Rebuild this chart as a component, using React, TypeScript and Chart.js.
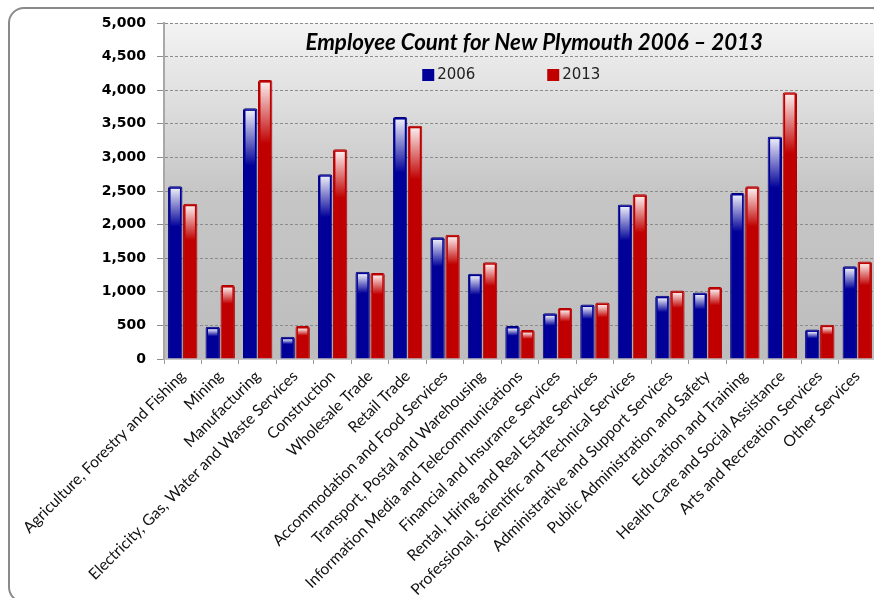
import React, { useEffect, useRef } from "react";
import { Chart, registerables } from "chart.js";

Chart.register(...registerables);

const categories: string[] = [
  "Agriculture, Forestry and Fishing",
  "Mining",
  "Manufacturing",
  "Electricity, Gas, Water and Waste Services",
  "Construction",
  "Wholesale Trade",
  "Retail Trade",
  "Accommodation and Food Services",
  "Transport, Postal and Warehousing",
  "Information Media and Telecommunications",
  "Financial and Insurance Services",
  "Rental, Hiring and Real Estate Services",
  "Professional, Scientific and Technical Services",
  "Administrative and Support Services",
  "Public Administration and Safety",
  "Education and Training",
  "Health Care and Social Assistance",
  "Arts and Recreation Services",
  "Other Services",
];

const values2006: number[] = [2570, 480, 3730, 330, 2750, 1300, 3600, 1810, 1270, 490, 680, 810, 2300, 940, 990, 2470, 3310, 440, 1380];
const values2013: number[] = [2310, 1100, 4150, 490, 3120, 1280, 3470, 1850, 1440, 430, 760, 840, 2450, 1020, 1070, 2570, 3970, 510, 1450];

const seriesLabels: string[] = ["2006", "2013"];
const titleText = "Employee Count for New Plymouth 2006 \u2013 2013";

const yMin = 0;
const yMax = 5000;
const yStep = 500;

const plotBackground = {
  id: "plotBackground",
  beforeDraw(chart: any) {
    const { ctx, chartArea } = chart;
    const { left, top, right, bottom } = chartArea;
    const g = ctx.createLinearGradient(0, top, 0, bottom);
    g.addColorStop(0, "#f3f3f3");
    g.addColorStop(0.5, "#c6c6c6");
    g.addColorStop(1, "#bdbdbd");
    ctx.save();
    ctx.fillStyle = g;
    ctx.fillRect(left, top, right - left, bottom - top);
    ctx.restore();
  },
};

const barHighlight = {
  id: "barHighlight",
  afterDatasetsDraw(chart: any) {
    const { ctx } = chart;
    ctx.save();
    chart.data.datasets.forEach((_ds: any, i: number) => {
      const meta = chart.getDatasetMeta(i);
      meta.data.forEach((bar: any) => {
        const { x, y, base, width } = bar.getProps(["x", "y", "base", "width"], true);
        const h = base - y;
        const inset = 2.5;
        const top = y + 2.5;
        const hh = Math.max(3, h * 0.22);
        const g = ctx.createLinearGradient(0, top, 0, top + hh);
        g.addColorStop(0, "rgba(255,255,255,0.92)");
        g.addColorStop(0.35, "rgba(255,255,255,0.6)");
        g.addColorStop(1, "rgba(255,255,255,0)");
        ctx.fillStyle = g;
        ctx.fillRect(x - width / 2 + inset, top, width - inset * 2, hh);
      });
    });
    ctx.restore();
  },
};

const titleLegend = {
  id: "titleLegend",
  afterDraw(chart: any) {
    const { ctx, chartArea } = chart;
    const cx = chartArea.left + (chartArea.right - chartArea.left) * 0.52;
    ctx.save();
    ctx.fillStyle = "#000";
    ctx.font = "italic bold 22.3px Lato";
    ctx.textAlign = "center";
    ctx.textBaseline = "middle";
    ctx.fillText(titleText, cx, chartArea.top + 20);

    ctx.font = "15px 'DejaVu Sans'";
    ctx.textAlign = "left";
    const starts = [cx - 112, cx + 13];
    chart.data.datasets.forEach((ds: any, i: number) => {
      const sx = starts[i];
      const sy = chartArea.top + 46;
      ctx.fillStyle = ds.backgroundColor;
      ctx.fillRect(sx, sy, 12, 12);
      ctx.fillStyle = "#222";
      ctx.fillText(ds.label, sx + 15, sy + 6.5);
    });
    ctx.restore();
  },
};

export default function App() {
  const canvasRef = useRef<HTMLCanvasElement | null>(null);

  useEffect(() => {
    if (!canvasRef.current) return;
    const chart = new Chart(canvasRef.current, {
      type: "bar",
      data: {
        labels: categories,
        datasets: [
          {
            label: seriesLabels[0],
            data: values2006,
            backgroundColor: "#000099",
            borderColor: "#00007a",
            borderWidth: 1,
            borderRadius: 2,
            categoryPercentage: 0.8,
            barPercentage: 0.96,
          },
          {
            label: seriesLabels[1],
            data: values2013,
            backgroundColor: "#c00000",
            borderColor: "#b00000",
            borderWidth: 1,
            borderRadius: 2,
            categoryPercentage: 0.8,
            barPercentage: 0.96,
          },
        ],
      },
      options: {
        animation: false,
        responsive: true,
        maintainAspectRatio: false,
        layout: { padding: { top: 23, right: 4, left: 0, bottom: 0 } },
        plugins: {
          legend: { display: false },
          title: { display: false },
          tooltip: { enabled: false },
        },
        scales: {
          x: {
            grid: {
              display: true,
              drawOnChartArea: false,
              drawTicks: true,
              tickLength: 5,
              color: "#9a9a9a",
            },
            border: { display: true, color: "#c8c8c8", width: 1 },
            ticks: {
              autoSkip: false,
              maxRotation: 45,
              minRotation: 45,
              padding: 3,
              color: "#111",
              font: { family: "Lato", size: 15.6 },
            },
            afterFit(scale: any) {
              scale.height = 239;
            },
          },
          y: {
            min: yMin,
            max: yMax,
            grid: {
              color: "#8c8c8c",
              lineWidth: 1,
              tickLength: 7,
              drawTicks: true,
            },
            border: { display: true, color: "#a8a8a8", width: 2, dash: [3, 2] },
            ticks: {
              stepSize: yStep,
              padding: 11,
              color: "#000",
              font: { family: "DejaVu Sans", weight: "bold", size: 14 },
              callback: (v: any) => Number(v).toLocaleString("en-US"),
            },
            afterFit(scale: any) {
              scale.width = 164;
            },
          },
        },
      },
      plugins: [plotBackground, barHighlight, titleLegend],
    });
    return () => chart.destroy();
  }, []);

  return (
    <div style={{ position: "fixed", left: 0, top: 0, width: 874, height: 598, overflow: "hidden", background: "#fff" }}>
      <div
        style={{
          position: "absolute",
          left: 8,
          top: 7,
          width: 880,
          height: 596,
          border: "2px solid #8a8a8a",
          borderRadius: 16,
          boxSizing: "border-box",
        }}
      />
      <div style={{ position: "absolute", left: 0, top: 0, width: 880, height: 598 }}>
        <canvas ref={canvasRef} />
      </div>
    </div>
  );
}
